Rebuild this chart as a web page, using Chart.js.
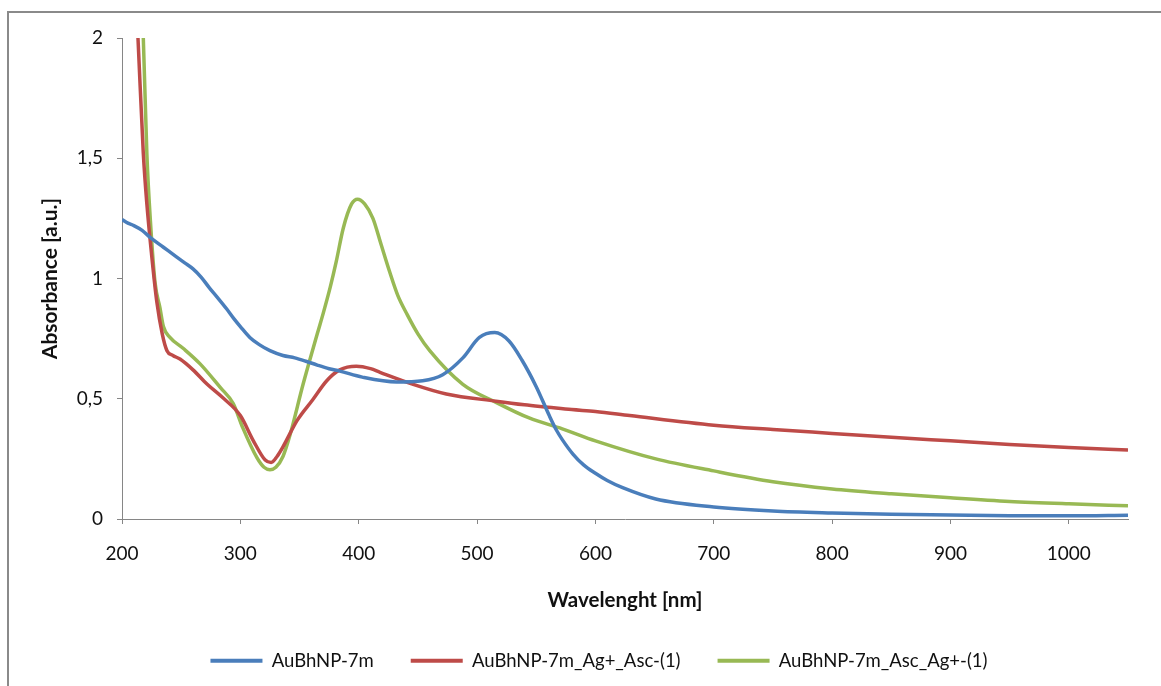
<!DOCTYPE html>
<html>
<head>
<meta charset="utf-8">
<script src="https://cdn.jsdelivr.net/npm/chart.js@4/dist/chart.umd.min.js"></script>
<style>
  body { margin: 0; background: #fff; overflow: hidden; }
  #wrap { position: relative; width: 1161px; height: 686px; }
  #frame { position: absolute; left: 7px; top: 11px; width: 1200px; height: 700px;
           border-top: 2px solid #8a8a8a; border-left: 2px solid #8a8a8a; }
  canvas { position: absolute; left: 0; top: 0; }
</style>
</head>
<body>
<div id="wrap">
  <div id="frame"></div>
  <canvas id="chart" width="1161" height="686"></canvas>
</div>
<script>
// wavelength (nm) and absorbance, one pair of arrays per curve
const seriesNames = ['AuBhNP-7m', 'AuBhNP-7m_Ag+_Asc-(1)', 'AuBhNP-7m_Asc_Ag+-(1)'];
const seriesColors = ['#4a7ebb', '#be4b48', '#98b954'];

const blueWl  = [200, 205, 210, 217, 224, 235, 246, 253, 260, 267, 274, 280, 289, 295, 300, 308, 316, 325, 336, 346, 356, 365, 375, 384, 403, 432, 454, 471, 488, 502, 515, 527, 538, 550, 561, 567, 572, 581, 590, 600, 610, 623, 651, 700, 750, 800, 850, 900, 950, 1000, 1050];
const blueAbs = [1.245, 1.23, 1.22, 1.20, 1.17, 1.13, 1.09, 1.065, 1.04, 1.005, 0.96, 0.925, 0.87, 0.83, 0.80, 0.755, 0.725, 0.70, 0.68, 0.67, 0.655, 0.64, 0.625, 0.615, 0.59, 0.57, 0.575, 0.60, 0.67, 0.755, 0.775, 0.74, 0.66, 0.55, 0.43, 0.37, 0.33, 0.27, 0.225, 0.19, 0.16, 0.13, 0.083, 0.05, 0.033, 0.025, 0.02, 0.017, 0.014, 0.013, 0.016];

const redWl  = [209, 213.5, 218, 221, 225, 229.5, 234, 238, 243, 249, 260, 272, 285, 300, 311, 321, 326, 331, 336, 348, 361, 373, 384, 398, 410, 418, 446, 474, 516, 540, 560, 580, 600, 629, 700, 750, 800, 850, 900, 950, 1000, 1050];
const redAbs = [2.45, 2.0, 1.52, 1.31, 1.10, 0.90, 0.77, 0.70, 0.68, 0.665, 0.62, 0.56, 0.505, 0.43, 0.325, 0.245, 0.235, 0.26, 0.30, 0.41, 0.495, 0.575, 0.62, 0.635, 0.625, 0.61, 0.56, 0.52, 0.49, 0.475, 0.465, 0.455, 0.447, 0.43, 0.39, 0.372, 0.356, 0.34, 0.325, 0.31, 0.297, 0.287];

const greenWl  = [214, 218, 221, 224, 228, 232, 235, 240.5, 251.6, 266, 283, 294, 302, 314, 320, 325, 330, 336, 342, 353, 365, 370, 376, 381, 387, 394, 399, 405, 412, 419, 426, 433, 441, 450, 460, 488, 516, 544, 572, 600, 651, 700, 750, 800, 850, 900, 950, 1000, 1050];
const greenAbs = [2.45, 2.0, 1.52, 1.24, 0.98, 0.88, 0.80, 0.755, 0.71, 0.645, 0.547, 0.48, 0.38, 0.255, 0.215, 0.205, 0.215, 0.26, 0.35, 0.56, 0.77, 0.855, 0.965, 1.07, 1.21, 1.31, 1.33, 1.31, 1.25, 1.14, 1.03, 0.93, 0.85, 0.77, 0.70, 0.56, 0.485, 0.42, 0.375, 0.325, 0.25, 0.20, 0.155, 0.125, 0.105, 0.088, 0.073, 0.063, 0.055];

const xTicks = [200, 300, 400, 500, 600, 700, 800, 900, 1000];
const yTicks = [0, 0.5, 1, 1.5, 2];

const axisGray = '#868686';
const textColor = '#111';
const fontFamily = 'Lato, "Open Sans", sans-serif';

function toPoints(xs, ys) {
  return xs.map((x, i) => ({ x: x, y: ys[i] }));
}

const allWl = [blueWl, redWl, greenWl];
const allAbs = [blueAbs, redAbs, greenAbs];

const datasets = seriesNames.map((name, i) => ({
  label: name,
  data: toPoints(allWl[i], allAbs[i]),
  borderColor: seriesColors[i],
  backgroundColor: seriesColors[i],
  borderWidth: 3.5,
  pointRadius: 0,
  cubicInterpolationMode: 'monotone',
  fill: false
}));

// the legend in the original sits a little right of the plot centre
const legendShift = {
  id: 'legendShift',
  afterLayout(chart) {
    chart.legend.left += 16;
    chart.legend.right += 16;
  }
};

new Chart(document.getElementById('chart'), {
  type: 'line',
  data: { datasets: datasets },
  plugins: [legendShift],
  options: {
    responsive: false,
    animation: false,
    layout: { padding: { left: 38, right: 33, top: 38, bottom: 6 } },
    plugins: {
      tooltip: { enabled: false },
      legend: {
        position: 'bottom',
        labels: {
          color: textColor,
          font: { family: fontFamily, size: 18.5 },
          boxWidth: 52,
          boxHeight: 4,
          padding: 37,
          generateLabels: chart => chart.data.datasets.map((ds, i) => ({
            text: ds.label,
            fillStyle: ds.borderColor,
            strokeStyle: ds.borderColor,
            lineWidth: 0,
            fontColor: textColor,
            datasetIndex: i
          }))
        }
      }
    },
    scales: {
      x: {
        type: 'linear',
        min: 200,
        max: 1050,
        afterBuildTicks: scale => { scale.ticks = xTicks.map(v => ({ value: v })); },
        afterFit: scale => { scale.height = 95.5; },
        border: { display: true, color: axisGray, width: 1 },
        grid: { drawOnChartArea: false, drawTicks: true, tickLength: 5, color: axisGray },
        ticks: {
          color: textColor,
          padding: 18,
          maxRotation: 0,
          font: { family: fontFamily, size: 19 },
          callback: v => String(v)
        },
        title: {
          display: true,
          text: 'Wavelenght [nm]',
          color: textColor,
          font: { family: fontFamily, size: 20.5, weight: 'bold' },
          padding: { top: 0, bottom: 2 }
        }
      },
      y: {
        min: 0,
        max: 2,
        afterBuildTicks: scale => { scale.ticks = yTicks.map(v => ({ value: v })); },
        afterFit: scale => { scale.width = 84; },
        border: { display: true, color: axisGray, width: 1 },
        grid: { drawOnChartArea: false, drawTicks: true, tickLength: 5, color: axisGray },
        ticks: {
          color: textColor,
          padding: 14,
          font: { family: fontFamily, size: 19 },
          callback: v => String(v).replace('.', ',')
        },
        title: {
          display: true,
          text: 'Absorbance [a.u.]',
          color: textColor,
          font: { family: fontFamily, size: 21, weight: 'bold' },
          padding: 0
        }
      }
    }
  }
});
</script>
</body>
</html>
